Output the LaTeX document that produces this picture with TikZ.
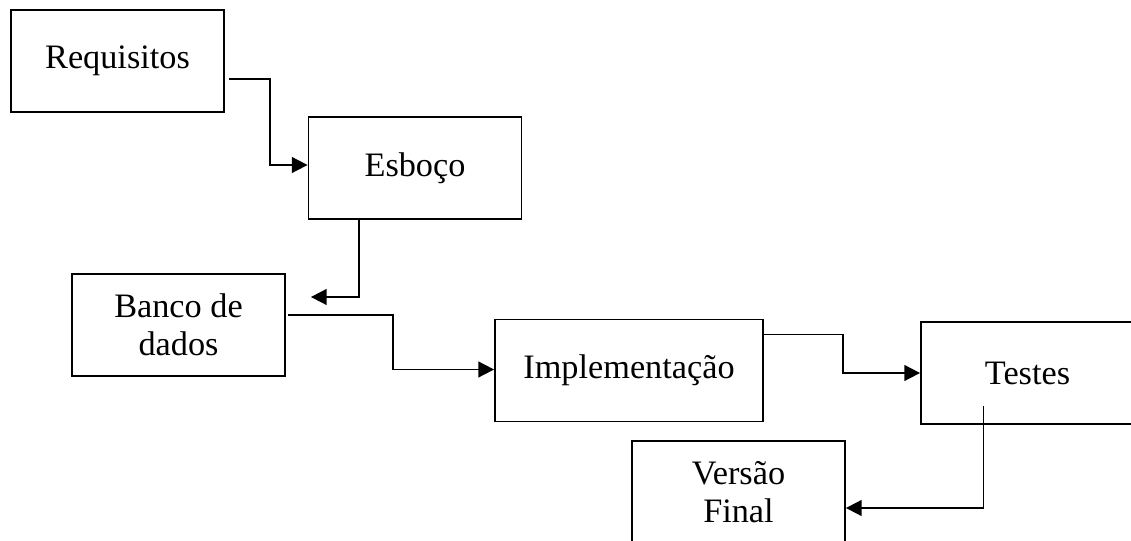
\documentclass[tikz,border=0pt]{standalone}
\usepackage{fontspec}
\setmainfont{Liberation Serif}
\usetikzlibrary{arrows.meta}
\tikzstyle{etapa} = [rectangle, draw, line width=1pt, minimum width=4.26cm, minimum height=2.04cm, text centered, align=center, font=\fontsize{19.5}{21.5}\selectfont]
\tikzstyle{seta} = [line width=1pt,-{Triangle[length=9pt,width=9pt]}]

\begin{document}
\begin{tikzpicture}[x=0.2mm,y=-0.2mm]
        \useasboundingbox (0,0) rectangle (1131,541);
        \node [etapa] at (117.5,61) (req) {Requisitos};
        \node [etapa] at (415,168) (esb) {Esboço};
        \node [etapa] at (178.5,325) (bd) {Banco de\\dados};
        \node [etapa, minimum width=5.36cm] at (629,370.5) (impl) {Implementação};
        \node [etapa] at (1027.5,373) (tst) {Testes};
        \node [etapa] at (738.5,492) (vf) {Versão\\Final};
        \coordinate (bdtip) at ([shift={(25,-28)}]bd.east);
        \draw [seta] ([shift={(4,18)}]req.east) -- ++(41,0) |- ([shift={(0,-3)}]esb.west);
        \draw [seta] ([shift={(51,0)}]esb.south west) |- (bdtip);
        \draw [seta] ([shift={(2,-10)}]bd.east) -- ++(105,0) |- ([shift={(0,-1)}]impl.west);
        \draw [seta] ([shift={(0,-36)}]impl.east) -- ++(79,0) |- (tst.west);
        \draw [seta] ([shift={(-44,33)}]tst.center) |- ([shift={(0,16)}]vf.east);
\end{tikzpicture}
\end{document}
